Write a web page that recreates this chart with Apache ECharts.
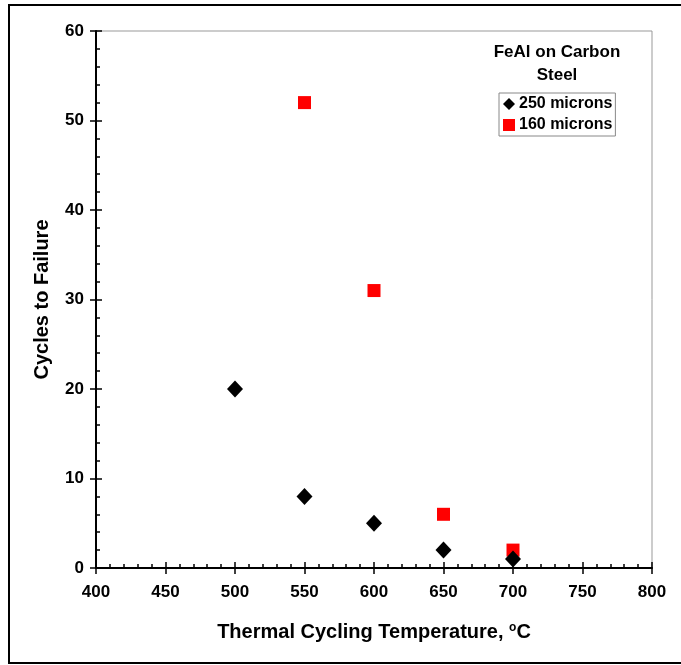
<!DOCTYPE html>
<html><head><meta charset="utf-8">
<script src="https://cdn.jsdelivr.net/npm/echarts@6/dist/echarts.min.js"></script>
<style>html,body{margin:0;padding:0;background:#fff}#c{width:681px;height:665px}</style>
</head><body><div id="c"></div>
<script>
const temps250 = [500, 550, 600, 650, 700];
const cycles250 = [20, 8, 5, 2, 1];
const temps160 = [550, 600, 650, 700];
const cycles160 = [52, 31, 6, 2];
const seriesNames = ['250 microns', '160 microns'];
const chartTitle = ['FeAl on Carbon', 'Steel'];
const xTitle = 'Thermal Cycling Temperature, ';
const yTitle = 'Cycles to Failure';

const font = '"Liberation Sans", Arial, sans-serif';
const chart = echarts.init(document.getElementById('c'));
const pair = (xs, ys) => xs.map((x, i) => [x, ys[i]]);
const baseX = {type: 'value', min: 400, max: 800, interval: 50, gridIndex: 0};
const baseY = {type: 'value', min: 0, max: 60, interval: 10, gridIndex: 0};
chart.setOption({
  animation: false,
  backgroundColor: '#fff',
  grid: {left: 96, right: 29, top: 31, bottom: 97, show: true, borderColor: '#999', borderWidth: 1},
  xAxis: [
    Object.assign({}, baseX, {
      position: 'bottom',
      axisLine: {lineStyle: {color: '#000', width: 2}},
      axisTick: {inside: true, length: 6, lineStyle: {color: '#000', width: 1.5}},
      minorTick: {show: true, splitNumber: 5, length: 4, lineStyle: {color: '#000', width: 1.5}},
      splitLine: {show: false},
      axisLabel: {color: '#000', fontFamily: font, fontWeight: 'bold', fontSize: 17, margin: 16},
      name: xTitle + '{sup|o}C',
      nameLocation: 'middle', nameGap: 54,
      nameTextStyle: {color: '#000', fontFamily: font, fontWeight: 'bold', fontSize: 20,
        rich: {sup: {fontSize: 12, fontWeight: 'bold', fontFamily: font, color: '#000', verticalAlign: 'top', padding: [0,0,9,0]}}}
    }),
    Object.assign({}, baseX, {
      position: 'bottom',
      axisLine: {show: false},
      axisTick: {inside: false, length: 6, lineStyle: {color: '#000', width: 1.5}},
      axisLabel: {show: false}, splitLine: {show: false}
    })
  ],
  yAxis: [
    Object.assign({}, baseY, {
      position: 'left',
      axisLine: {show: true, lineStyle: {color: '#000', width: 2}},
      axisTick: {show: true, inside: true, length: 6, lineStyle: {color: '#000', width: 1.5}},
      minorTick: {show: true, splitNumber: 5, length: 4, lineStyle: {color: '#000', width: 1.5}},
      splitLine: {show: false},
      axisLabel: {color: '#000', fontFamily: font, fontWeight: 'bold', fontSize: 17, margin: 12},
      name: yTitle, nameLocation: 'middle', nameGap: 44, nameRotate: 90,
      nameTextStyle: {color: '#000', fontFamily: font, fontWeight: 'bold', fontSize: 20}
    }),
    Object.assign({}, baseY, {
      position: 'left',
      axisLine: {show: false},
      axisTick: {show: true, inside: false, length: 6, lineStyle: {color: '#000', width: 1.5}},
      axisLabel: {show: false}, splitLine: {show: false}
    })
  ],
  legend: {
    orient: 'vertical', left: 499, top: 93,
    borderColor: '#888', borderWidth: 1, padding: [3, 3, 3, 4], itemGap: 5,
    itemWidth: 12, itemHeight: 12,
    textStyle: {color: '#000', fontFamily: font, fontWeight: 'bold', fontSize: 16, padding: [0,0,0,-1]},
    data: [{name: seriesNames[0], icon: 'diamond'}, {name: seriesNames[1], icon: 'rect'}]
  },
  graphic: [
    {type: 'rect', shape: {x: 9, y: 5, width: 700, height: 658}, style: {fill: null, stroke: '#000', lineWidth: 2}, silent: true, z: 100},
    {type: 'text', style: {x: 557, y: 52, text: chartTitle[0], fill: '#000', font: 'bold 17px ' + font, align: 'center', verticalAlign: 'middle'}},
    {type: 'text', style: {x: 557, y: 75, text: chartTitle[1], fill: '#000', font: 'bold 17px ' + font, align: 'center', verticalAlign: 'middle'}}
  ],
  series: [
    {name: seriesNames[0], type: 'scatter', symbol: 'diamond', symbolSize: [16, 17],
     itemStyle: {color: '#000', opacity: 1}, data: pair(temps250, cycles250), z: 3},
    {name: seriesNames[1], type: 'scatter', symbol: 'rect', symbolSize: 13,
     itemStyle: {color: '#ff0000', opacity: 1}, data: pair(temps160, cycles160), z: 2}
  ]
});
</script></body></html>
